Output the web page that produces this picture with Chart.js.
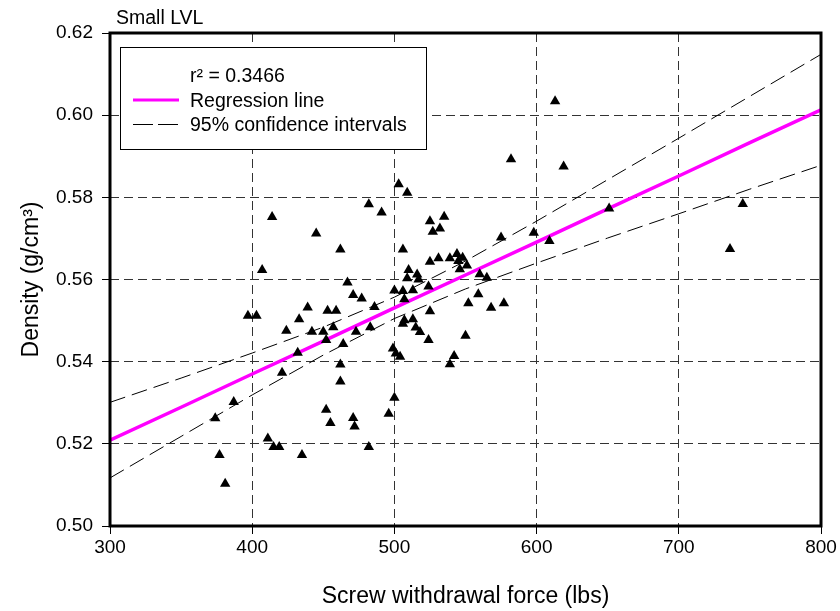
<!DOCTYPE html>
<html>
<head>
<meta charset="utf-8">
<script src="https://cdn.jsdelivr.net/npm/chart.js@4"></script>
<style>
    html, body { margin: 0; padding: 0; background: #fff; }
    #wrap { width: 840px; height: 611px; position: relative; }
</style>
</head>
<body>
<div id="wrap"><canvas id="lvlChart"></canvas></div>
<script>
// =========================================
// Data
// =========================================

const forceLbs = [
    503, 509, 414, 482, 491, 445, 462, 506, 407, 525,
    535, 527, 532, 525, 531, 539, 544, 545, 548, 551,
    546, 560, 565, 575, 598, 609, 613, 582, 619, 651,
    745, 736, 467, 471, 477, 500, 439, 453, 459, 486,
    433, 397, 403, 424, 442, 450, 457, 473, 483, 452,
    464, 432, 499, 501, 504, 462, 421, 462, 387, 374,
    500, 452, 455, 471, 472, 496, 411, 415, 419, 435,
    482, 377, 381, 510, 516, 509, 517, 524, 506, 513,
    507, 552, 559, 568, 577, 525, 507, 513, 506, 515,
    518, 524, 550, 542, 539
];

const densityGcm3 = [
    0.5832, 0.5811, 0.5752, 0.5783, 0.5763, 0.5712, 0.5673, 0.5673, 0.5623, 0.5742,
    0.5753, 0.5716, 0.5724, 0.5643, 0.5652, 0.5652, 0.5662, 0.5645, 0.5653, 0.5634,
    0.5625, 0.5613, 0.5604, 0.5702, 0.5714, 0.5694, 0.6034, 0.5893, 0.5875, 0.5773,
    0.5784, 0.5674, 0.5593, 0.5562, 0.5554, 0.5573, 0.5532, 0.5524, 0.5524, 0.5533,
    0.5503, 0.5512, 0.5512, 0.5475, 0.5473, 0.5473, 0.5484, 0.5473, 0.5484, 0.5453,
    0.5443, 0.5422, 0.5432, 0.5420, 0.5412, 0.5393, 0.5373, 0.5352, 0.5302, 0.5262,
    0.5312, 0.5283, 0.5251, 0.5263, 0.5242, 0.5273, 0.5213, 0.5192, 0.5192, 0.5173,
    0.5192, 0.5173, 0.5103, 0.5623, 0.5612, 0.5603, 0.5600, 0.5583, 0.5572, 0.5574,
    0.5552, 0.5542, 0.5564, 0.5531, 0.5542, 0.5523, 0.5501, 0.5503, 0.5492, 0.5483,
    0.5472, 0.5453, 0.5463, 0.5414, 0.5394
];

// regression line and 95% bands, read at every 50 lbs
const bandX = [300, 350, 400, 450, 500, 550, 600, 650, 700, 750, 800];
const fitY = [0.5209, 0.5289, 0.5370, 0.5450, 0.5531, 0.5611, 0.5691, 0.5772, 0.5852, 0.5933, 0.6013];
const upperCI = [0.5301, 0.5360, 0.5421, 0.5484, 0.5557, 0.5645, 0.5742, 0.5843, 0.5944, 0.6046, 0.6148];
const lowerCI = [0.5117, 0.5218, 0.5319, 0.5416, 0.5505, 0.5577, 0.5640, 0.5701, 0.5760, 0.5820, 0.5878];

const rSquared = "0.3466";

const toPoints = (xs, ys) => xs.map((x, i) => ({ x: x, y: ys[i] }));

const FONT = "'Liberation Sans', Arial, sans-serif";


// =========================================
// Frame, panel label and legend box
// =========================================

const decorPlugin = {

    id: "decor",

    afterDatasetsDraw(chart) {

        const ctx = chart.ctx;

        ctx.save();

        // legend box
        ctx.fillStyle = "#fff";
        ctx.fillRect(120, 47, 306, 102);
        ctx.strokeStyle = "#000";
        ctx.lineWidth = 1;
        ctx.strokeRect(120.5, 47.5, 306, 102);

        ctx.font = "19.5px " + FONT;
        ctx.fillStyle = "#000";
        ctx.textBaseline = "alphabetic";
        ctx.textAlign = "left";
        ctx.fillText("r\u00B2 = " + rSquared, 190, 82);
        ctx.fillText("Regression line", 190, 106.5);
        ctx.fillText("95% confidence intervals", 190, 130.5);

        ctx.strokeStyle = "#ff00ff";
        ctx.lineWidth = 3;
        ctx.beginPath();
        ctx.moveTo(133, 100);
        ctx.lineTo(179, 100);
        ctx.stroke();

        ctx.strokeStyle = "#000";
        ctx.lineWidth = 1;
        ctx.beginPath();
        ctx.moveTo(133, 124.5);
        ctx.lineTo(153, 124.5);
        ctx.moveTo(158, 124.5);
        ctx.lineTo(178, 124.5);
        ctx.stroke();

        ctx.restore();
    },

    afterDraw(chart) {

        const { ctx, chartArea } = chart;

        ctx.save();

        ctx.strokeStyle = "#000";
        ctx.lineWidth = 3;
        ctx.strokeRect(
            chartArea.left,
            chartArea.top,
            chartArea.right - chartArea.left,
            chartArea.bottom - chartArea.top
        );

        ctx.font = "19.5px " + FONT;
        ctx.fillStyle = "#000";
        ctx.textBaseline = "alphabetic";
        ctx.fillText("Small LVL", 116, 24);

        ctx.restore();
    }
};


// =========================================
// Scatter chart
// =========================================

const lvlCanvas =
    document.getElementById("lvlChart");

new Chart(lvlCanvas, {

    type: "scatter",

    data: {

        datasets: [
            {
                label: "Samples",
                data: toPoints(forceLbs, densityGcm3),
                pointStyle: "triangle",
                pointRadius: 6,
                backgroundColor: "#000",
                borderWidth: 0,
                order: 0
            },
            {
                label: "Regression line",
                data: toPoints(bandX, fitY),
                showLine: true,
                pointRadius: 0,
                borderColor: "#ff00ff",
                borderWidth: 3.5,
                order: 1
            },
            {
                label: "Upper 95%",
                data: toPoints(bandX, upperCI),
                showLine: true,
                pointRadius: 0,
                borderColor: "#000",
                borderWidth: 1,
                borderDash: [16, 7],
                order: 2
            },
            {
                label: "Lower 95%",
                data: toPoints(bandX, lowerCI),
                showLine: true,
                pointRadius: 0,
                borderColor: "#000",
                borderWidth: 1,
                borderDash: [16, 7],
                order: 3
            }
        ]
    },

    options: {

        responsive: true,
        maintainAspectRatio: false,
        animation: false,
        events: [],

        layout: {
            padding: { left: 0, top: 33, right: 19, bottom: 0 }
        },

        plugins: {
            legend: { display: false },
            tooltip: { enabled: false }
        },

        scales: {

            x: {
                type: "linear",
                min: 300,
                max: 800,
                afterFit(scale) { scale.height = 85; },
                ticks: {
                    stepSize: 100,
                    padding: 2,
                    color: "#000",
                    font: { family: FONT, size: 19 }
                },
                grid: {
                    color: "#333",
                    lineWidth: 1,
                    tickLength: 8,
                    tickColor: "#000",
                    tickBorderDash: []
                },
                border: { display: false, dash: [9, 5] },
                title: {
                    display: true,
                    text: "Screw withdrawal force (lbs)",
                    color: "#000",
                    font: { family: FONT, size: 23 },
                    padding: { top: 0, bottom: 1 }
                }
            },

            y: {
                type: "linear",
                min: 0.50,
                max: 0.62,
                afterFit(scale) { scale.width = 110; },
                ticks: {
                    stepSize: 0.02,
                    padding: 9,
                    color: "#000",
                    font: { family: FONT, size: 19 },
                    callback: (v) => Number(v).toFixed(2)
                },
                grid: {
                    color: "#333",
                    lineWidth: 1,
                    tickLength: 8,
                    tickColor: "#000",
                    tickBorderDash: []
                },
                border: { display: false, dash: [9, 5] },
                title: {
                    display: true,
                    text: "Density (g/cm\u00B3)",
                    color: "#000",
                    font: { family: FONT, size: 23 },
                    padding: { top: 18, bottom: 0 }
                }
            }
        }
    },

    plugins: [decorPlugin]
});
</script>
</body>
</html>
